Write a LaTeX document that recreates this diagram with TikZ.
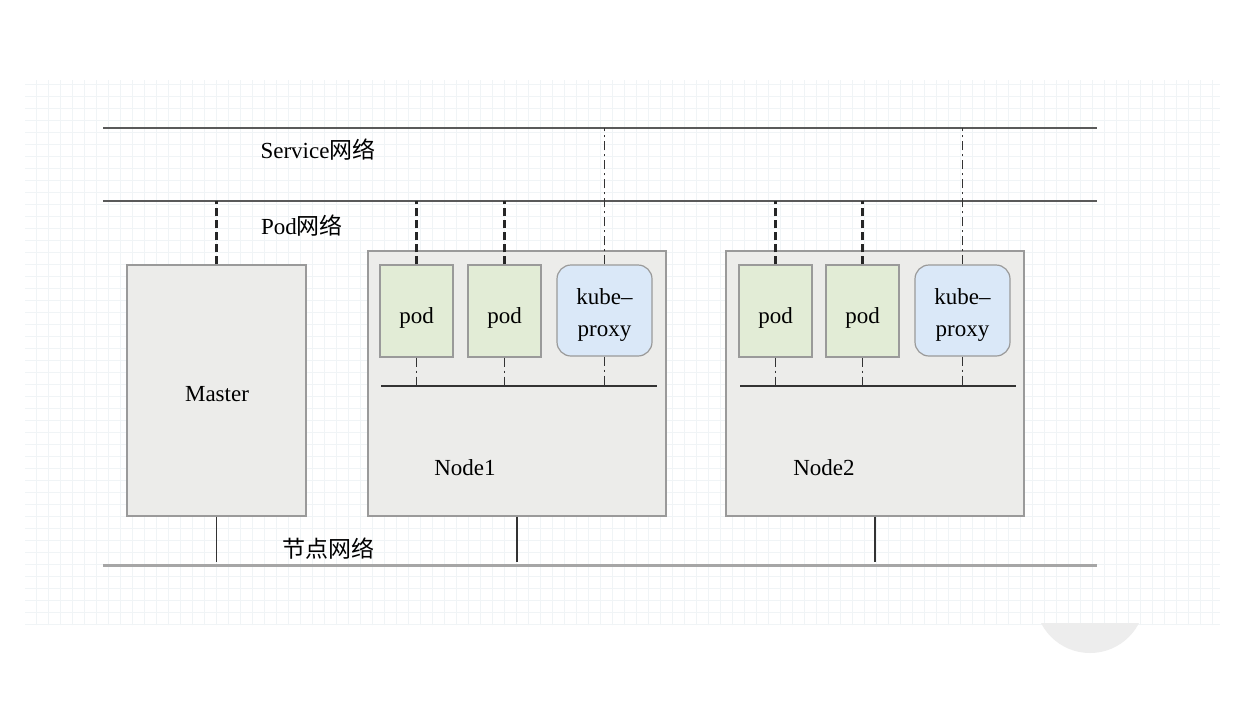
\documentclass[tikz,border=0pt]{standalone}
\usepackage{fontspec}
\setmainfont{Liberation Serif}
\newfontfamily\cjk{Noto Sans CJK SC}
\usetikzlibrary{backgrounds}

\definecolor{boxfill}{HTML}{ECECEA}
\definecolor{boxline}{HTML}{9A9A9A}
\definecolor{podfill}{HTML}{E2ECD6}
\definecolor{proxyfill}{HTML}{DAE8F8}
\definecolor{netgray}{HTML}{5A5A5A}
\definecolor{gridcol}{HTML}{F0F4F6}

\newcommand{\zh}[1]{{\cjk\fontsize{23}{27}\selectfont #1}}

\tikzset{
  hostbox/.style={draw=boxline, fill=boxfill, line width=1.2pt, inner sep=0pt},
  podbox/.style={draw=boxline, fill=podfill, line width=1.2pt, minimum width=73pt, minimum height=92pt, inner sep=0pt},
  proxybox/.style={draw=boxline, fill=proxyfill, line width=1.2pt, rounded corners=14pt, minimum width=95pt, minimum height=91pt, inner sep=0pt},
  boxtxt/.style={txt, align=center, font=\fontsize{23}{32}\selectfont, yshift=-7pt},
  netline/.style={draw=netgray, line width=1.4pt},
  nodenet/.style={draw=gray!70, line width=3pt},
  podlink/.style={draw=black!85, line width=2.6pt, dash pattern=on 8pt off 4pt},
  svclink/.style={draw=black!80, line width=1.2pt, dash pattern=on 9pt off 4pt on 2pt off 4pt},
  buslink/.style={draw=black!80, line width=1.2pt},
  txt/.style={font=\fontsize{23}{27}\selectfont, inner sep=0pt}
}

\begin{document}
\begin{tikzpicture}[x=1pt,y=-1pt,txt]
\useasboundingbox (0,0) rectangle (1250,705);

%background grid
\fill[white] (0,0) rectangle (1250,705);
\draw[gridcol, line width=0.5pt, step=12pt] (25,80) grid (1220,625);
\begin{scope}
\clip (1000,623) rectangle (1200,705);
\fill[gray!14] (1090,598) circle (55);
\end{scope}

%networks
\coordinate (svcL) at (103,128);
\coordinate (svcR) at (1097,128);
\coordinate (podL) at (103,201);
\coordinate (podR) at (1097,201);
\coordinate (hostL) at (103,565);
\coordinate (hostR) at (1097,565);
\draw[netline] (svcL) -- (svcR);
\draw[netline] (podL) -- (podR);
\draw[nodenet] (hostL) -- (hostR);

% Text Node
\node (svcnet) at (318,150) {Service\zh{网络}};
\node (podnet) at (302,226) {Pod\zh{网络}};
\node (hostnet) at (328,549) {\zh{节点网络}};

%Master
\node[hostbox, minimum width=179pt, minimum height=251pt] (master) at (216.5,390.5) {};
\node (mastertxt) at (217,394) {Master};

%Node1
\node[hostbox, minimum width=298pt, minimum height=265pt] (node1) at (517,383.5) {};
\node (node1txt) at (465,468) {Node1};
\node[podbox, label={[boxtxt]center:pod}] (pod11) at (416.5,311) {};
\node[podbox, label={[boxtxt]center:pod}] (pod12) at (504.5,311) {};
\node[proxybox, label={[boxtxt,yshift=3pt]center:kube–\\proxy}] (proxy1) at (604.5,310.5) {};
\coordinate (bus1L) at (381,386);
\coordinate (bus1R) at (657,386);
\draw[buslink] (bus1L) -- (bus1R);

%Node2
\node[hostbox, minimum width=298pt, minimum height=265pt] (node2) at (875,383.5) {};
\node (node2txt) at (824,468) {Node2};
\node[podbox, label={[boxtxt]center:pod}] (pod21) at (775.5,311) {};
\node[podbox, label={[boxtxt]center:pod}] (pod22) at (862.5,311) {};
\node[proxybox, label={[boxtxt,yshift=3pt]center:kube–\\proxy}] (proxy2) at (962.5,310.5) {};
\coordinate (bus2L) at (740,386);
\coordinate (bus2R) at (1016,386);
\draw[buslink] (bus2L) -- (bus2R);

%pod network links
\foreach \n in {master,pod11,pod12,pod21,pod22}
  \draw[podlink] (\n.north) -- (\n.north |- podL);

%service network links
\foreach \n in {proxy1,proxy2}
  \draw[svclink] (\n.north) -- (\n.north |- svcL);

%inner bus links
\foreach \n/\b in {pod11/bus1L,pod12/bus1L,proxy1/bus1L,pod21/bus2L,pod22/bus2L,proxy2/bus2L}
  \draw[svclink] (\n.south) -- (\n.south |- \b);

%node network links
\foreach \n in {master,node1,node2}
  \draw[buslink] (\n.south) -- ([yshift=3pt]\n.south |- hostL);

\end{tikzpicture}
\end{document}
